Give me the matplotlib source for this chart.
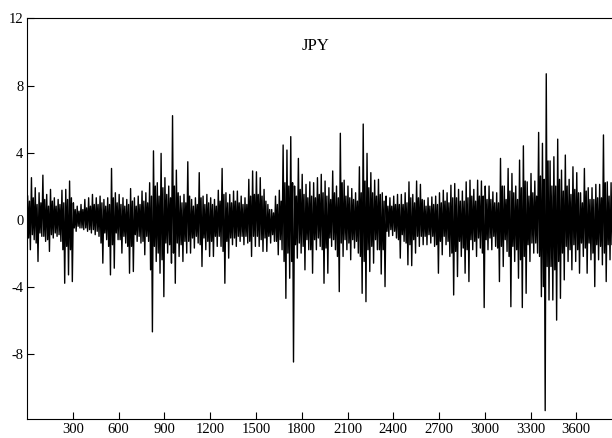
import numpy as np
import matplotlib
matplotlib.use("Agg")
import matplotlib.pyplot as plt

plt.rcParams['font.family'] = ['Liberation Serif', 'DejaVu Serif']
plt.rcParams['axes.unicode_minus'] = False

# per block of 25 observations (read off the chart):
# highest and lowest spike, plus the edges of the solid black core
BLOQUE = 25
MAXIMOS = [
    1.4, 2.5, 1.9, 1.6, 2.65, 1.5, 1.8, 1.3, 1.2, 1.75, 1.8, 2.3, 1.0, 0.8, 0.9, 1.2, 1.3, 1.5, 1.3, 1.4,
    1.2, 1.3, 3.05, 1.6, 1.5, 1.3, 1.2, 1.85, 1.3, 1.4, 1.7, 1.6, 2.2, 4.1, 2.2, 3.95, 2.5, 2.0, 6.2, 2.95,
    1.4, 1.5, 3.45, 1.2, 1.3, 2.8, 1.4, 1.5, 1.3, 1.2, 1.75, 3.05, 1.6, 1.5, 1.7, 1.7, 1.4, 1.3, 2.4, 2.9,
    2.85, 2.5, 1.8, 0.9, 0.6, 1.4, 1.75, 4.45, 4.15, 4.95, 2.0, 3.65, 2.7, 2.1, 2.25, 2.2, 2.5, 2.7, 2.3, 1.9,
    2.9, 2.0, 5.15, 2.35, 2.0, 1.85, 1.6, 3.15, 5.7, 3.95, 2.8, 2.35, 2.4, 1.6, 1.4, 1.3, 1.4, 1.5, 1.5, 1.6,
    2.25, 1.5, 2.3, 2.1, 1.15, 1.3, 1.35, 1.4, 1.6, 1.75, 1.6, 2.05, 2.15, 1.8, 1.7, 2.25, 2.35, 1.8, 2.35, 2.3,
    2.0, 2.0, 1.65, 1.6, 3.65, 2.0, 3.05, 2.75, 2.0, 3.55, 4.4, 2.25, 2.75, 2.3, 5.2, 4.55, 8.7, 3.5, 3.75, 4.8,
    2.95, 3.85, 2.4, 3.15, 2.8, 1.6, 3.05, 1.9, 1.9, 2.1, 2.1, 5.05, 2.25, 2.2,
]
MINIMOS = [
    -1.8, -1.2, -2.5, -1.0, -1.3, -1.9, -1.1, -1.0, -1.3, -3.8, -3.3, -3.7, -0.7, -0.5, -0.6, -0.7, -0.8, -0.9, -1.0, -2.6,
    -1.2, -3.3, -2.9, -1.2, -2.0, -1.4, -3.2, -3.1, -1.3, -1.4, -2.1, -1.3, -6.7, -2.5, -3.2, -4.6, -2.0, -2.6, -3.8, -2.2,
    -2.5, -2.0, -2.0, -1.7, -1.4, -2.8, -1.8, -2.2, -2.2, -1.6, -1.6, -3.8, -2.3, -1.5, -1.6, -1.3, -1.5, -1.4, -2.2, -1.6,
    -1.6, -1.9, -1.9, -1.4, -1.3, -2.1, -1.8, -4.7, -3.5, -8.5, -2.3, -2.0, -3.0, -1.8, -3.2, -1.8, -1.6, -3.8, -3.2, -1.6,
    -1.8, -4.3, -2.2, -1.8, -2.4, -1.7, -2.0, -4.4, -4.9, -3.1, -2.6, -1.8, -3.25, -4.0, -1.0, -0.95, -1.1, -2.3, -1.3, -2.7,
    -2.75, -2.0, -1.6, -1.5, -1.5, -1.4, -1.6, -3.2, -2.1, -1.5, -2.2, -4.5, -3.4, -2.2, -3.2, -3.7, -1.8, -2.2, -1.7, -5.25,
    -1.8, -1.8, -1.6, -3.7, -2.8, -1.9, -5.2, -2.5, -3.5, -5.25, -4.4, -2.5, -2.0, -2.0, -4.6, -11.4, -4.8, -4.8, -6.0, -4.7,
    -3.6, -2.5, -3.0, -2.5, -3.2, -2.2, -3.2, -2.4, -4.0, -2.4, -2.7, -3.7, -2.4, -2.4,
]
NUCLEO_ALTO = [
    1.1, 1.3, 0.9, 1.0, 1.2, 0.8, 1.1, 0.8, 0.9, 1.0, 1.2, 1.3, 0.6, 0.5, 0.6, 0.7, 0.8, 0.9,
    0.9, 1.0, 0.8, 0.9, 1.3, 1.0, 0.9, 0.8, 0.9, 1.1, 0.8, 0.9, 1.1, 1.0, 1.4, 2.0, 1.4, 1.9,
    1.5, 1.3, 2.0, 1.6, 1.0, 1.0, 1.4, 0.8, 0.9, 1.3, 0.9, 1.0, 0.9, 0.8, 1.1, 1.5, 1.0, 1.0,
    1.1, 1.0, 0.9, 0.9, 1.4, 1.5, 1.5, 1.4, 1.1, 0.6, 0.4, 0.9, 1.1, 2.2, 2.0, 2.2, 1.4, 1.8,
    1.5, 1.3, 1.4, 1.3, 1.5, 1.6, 1.4, 1.2, 1.6, 1.3, 2.2, 1.4, 1.3, 1.2, 1.1, 1.6, 2.3, 1.9,
    1.6, 1.4, 1.5, 1.1, 0.8, 0.8, 0.9, 0.9, 0.9, 1.0, 1.3, 1.0, 1.3, 1.2, 0.8, 0.8, 0.9, 0.9,
    1.0, 1.1, 1.0, 1.3, 1.3, 1.1, 1.1, 1.3, 1.4, 1.1, 1.4, 1.4, 1.2, 1.2, 1.0, 1.0, 2.0, 1.2,
    1.7, 1.6, 1.2, 1.9, 2.3, 1.4, 1.6, 1.4, 2.6, 2.4, 3.5, 2.0, 2.0, 2.4, 1.7, 2.0, 1.5, 1.8,
    1.6, 1.0, 1.7, 1.2, 1.2, 1.3, 1.3, 2.2, 1.4, 1.3,
]
NUCLEO_BAJO = [
    -1.1, -0.9, -1.4, -0.8, -1.0, -1.2, -0.9, -0.8, -0.9, -1.8, -1.6, -1.8, -0.5, -0.4, -0.5, -0.5, -0.6, -0.6,
    -0.7, -1.4, -0.8, -1.6, -1.5, -0.8, -1.2, -1.0, -1.6, -1.6, -0.9, -1.0, -1.3, -1.0, -3.0, -1.6, -2.0, -2.4,
    -1.4, -1.5, -2.0, -1.4, -1.5, -1.3, -1.3, -1.1, -1.0, -1.5, -1.1, -1.3, -1.3, -1.0, -1.0, -1.9, -1.3, -1.1,
    -1.1, -1.0, -1.0, -1.0, -1.3, -1.0, -1.0, -1.2, -1.1, -1.0, -0.9, -1.3, -1.2, -2.5, -2.0, -2.5, -1.5, -1.4,
    -1.6, -1.2, -1.8, -1.2, -1.1, -1.8, -1.7, -1.1, -1.2, -2.2, -1.4, -1.2, -1.4, -1.2, -1.3, -2.2, -2.5, -1.8,
    -1.6, -1.2, -1.8, -1.8, -0.7, -0.6, -0.7, -1.2, -0.9, -1.4, -1.5, -1.2, -1.0, -1.0, -1.0, -0.9, -1.0, -1.5,
    -1.3, -1.0, -1.3, -2.0, -1.9, -1.3, -1.7, -1.8, -1.2, -1.3, -1.1, -2.0, -1.2, -1.1, -1.0, -1.7, -1.6, -1.2,
    -2.2, -1.6, -1.8, -2.4, -2.2, -1.5, -1.4, -1.4, -2.2, -4.0, -2.8, -2.8, -3.0, -2.5, -2.0, -1.6, -1.8, -1.5,
    -1.8, -1.4, -1.7, -1.4, -2.0, -1.5, -1.6, -2.0, -1.5, -1.5,
]
TICKS_X = [300, 600, 900, 1200, 1500, 1800, 2100, 2400, 2700, 3000, 3300, 3600]
TICKS_Y = [-8, -4, 0, 4, 8, 12]
TITULO = "JPY"

inicio = np.arange(len(MAXIMOS)) * BLOQUE
x = np.column_stack([inicio + 3, inicio + 9, inicio + 15, inicio + 21]).ravel()
y = np.column_stack([MAXIMOS, NUCLEO_BAJO, NUCLEO_ALTO, MINIMOS]).ravel()

fig = plt.figure(figsize=(6.12, 4.38), dpi=100)
ax = fig.add_axes([0.0449, 0.0434, 0.9551, 0.9144])
ax.plot(x, y, color="black", linewidth=1.0)

ax.set_xlim(2, 3834)
ax.set_ylim(-11.9, 12)
ax.set_xticks(TICKS_X)
ax.set_yticks(TICKS_Y)
ax.tick_params(direction="in", length=5, width=0.8, labelsize=10.5, pad=3)
ax.spines["right"].set_visible(False)
for lado in ["left", "bottom", "top"]:
    ax.spines[lado].set_linewidth(0.8)

fig.text(316 / 612, 1 - 46 / 438, TITULO, ha="center", va="center", fontsize=12)

fig.savefig("out.png", dpi=100)
